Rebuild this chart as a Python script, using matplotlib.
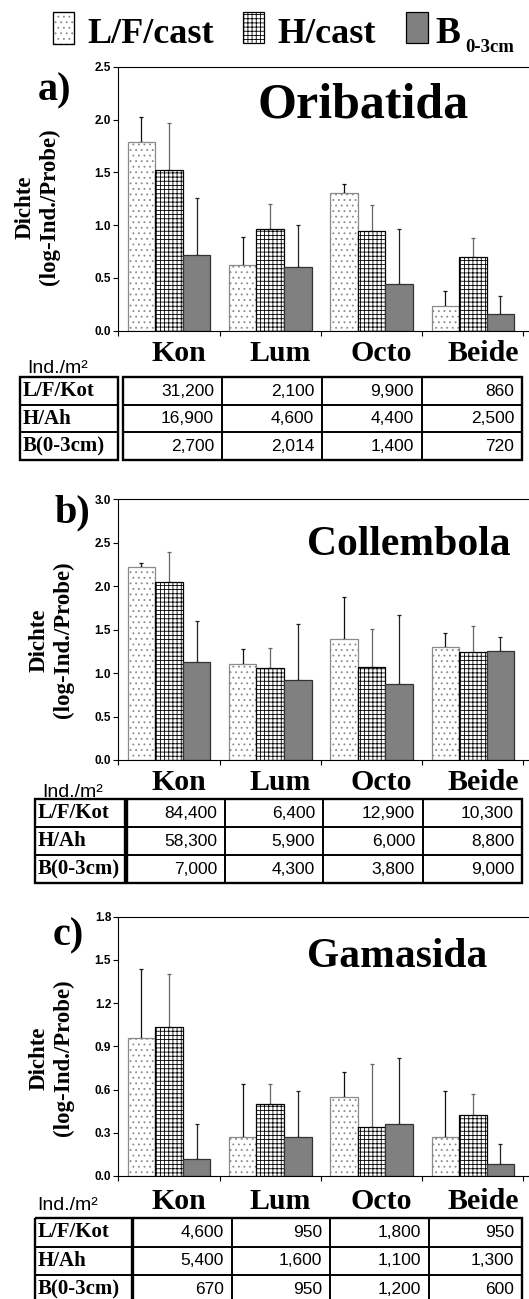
import matplotlib.pyplot as plt
import numpy as np
from matplotlib.patches import Rectangle
from matplotlib.transforms import blended_transform_factory

plt.rcParams['hatch.linewidth'] = 0.6
plt.rcParams['font.family'] = ['Liberation Sans', 'DejaVu Sans']
SERIF = ['Liberation Serif', 'DejaVu Serif']

sites = ['Kon', 'Lum', 'Octo', 'Beide']
layers = ['L/F/Kot', 'H/Ah', 'B(0-3cm)']

# bar heights and tops of the error bars (log-Ind./Probe)
ori_lf = [1.79, 0.62, 1.30, 0.23]
ori_lf_top = [2.02, 0.89, 1.39, 0.38]
ori_h = [1.52, 0.96, 0.94, 0.70]
ori_h_top = [1.97, 1.20, 1.19, 0.88]
ori_b = [0.72, 0.60, 0.44, 0.155]
ori_b_top = [1.26, 1.00, 0.96, 0.33]

col_lf = [2.22, 1.10, 1.39, 1.30]
col_lf_top = [2.27, 1.28, 1.88, 1.46]
col_h = [2.05, 1.06, 1.07, 1.24]
col_h_top = [2.39, 1.29, 1.51, 1.54]
col_b = [1.13, 0.92, 0.87, 1.25]
col_b_top = [1.60, 1.56, 1.67, 1.42]

gam_lf = [0.96, 0.27, 0.55, 0.27]
gam_lf_top = [1.44, 0.64, 0.72, 0.59]
gam_h = [1.035, 0.50, 0.34, 0.42]
gam_h_top = [1.40, 0.64, 0.78, 0.57]
gam_b = [0.12, 0.27, 0.36, 0.08]
gam_b_top = [0.36, 0.59, 0.82, 0.22]

# Ind./m2 tables
ori_tab = [[31200, 2100, 9900, 860], [16900, 4600, 4400, 2500], [2700, 2014, 1400, 720]]
col_tab = [[84400, 6400, 12900, 10300], [58300, 5900, 6000, 8800], [7000, 4300, 3800, 9000]]
gam_tab = [[4600, 950, 1800, 950], [5400, 1600, 1100, 1300], [670, 950, 1200, 600]]

W, H = 529, 1299
fig = plt.figure(figsize=(W / 100, H / 100), dpi=100)
ov = fig.add_axes([0, 0, 1, 1])
ov.set_xlim(0, W)
ov.set_ylim(H, 0)
ov.axis('off')

AX_LEFT = 118.3

panels = [
    dict(letter='a)', title='Oribatida', tsize=36, lf=ori_lf, lft=ori_lf_top, h=ori_h, ht=ori_h_top,
         b=ori_b, bt=ori_b_top, tab=ori_tab, top=66.7, bottom=330.7, ymax=2.5, ystep=0.5,
         let_xy=(38, 100), tit_xy=(363, 117), ylab_xy=(37, 207), cat_y=361, ind_xy=(27, 373),
         lab_box=(20, 118), cols=[123, 222, 322, 422, 522], rows=[377, 405, 432, 460]),
    dict(letter='b)', title='Collembola', tsize=30, lf=col_lf, lft=col_lf_top, h=col_h, ht=col_h_top,
         b=col_b, bt=col_b_top, tab=col_tab, top=499.3, bottom=760, ymax=3.0, ystep=0.5,
         let_xy=(55, 522), tit_xy=(409, 555), ylab_xy=(51, 640), cat_y=790, ind_xy=(42, 797),
         lab_box=(35, 125), cols=[127, 225, 323, 423, 522], rows=[799, 827, 855, 883]),
    dict(letter='c)', title='Gamasida', tsize=30, lf=gam_lf, lft=gam_lf_top, h=gam_h, ht=gam_h_top,
         b=gam_b, bt=gam_b_top, tab=gam_tab, top=916.7, bottom=1176, ymax=1.8, ystep=0.3,
         let_xy=(53, 945), tit_xy=(397, 967), ylab_xy=(51, 1058), cat_y=1209, ind_xy=(37, 1210),
         lab_box=(35, 132), cols=[133, 232, 330, 429, 522], rows=[1218, 1246.5, 1275, 1303.5]),
]

bw = 0.272
xpos = np.arange(len(sites)) + 0.5
unit = 101.3

for p in panels:
    ax = fig.add_axes([AX_LEFT / W, 1 - p['bottom'] / H, (W - AX_LEFT) / W, (p['bottom'] - p['top']) / H])
    ax.set_facecolor('none')
    series = [
        (p['lf'], p['lft'], -bw, dict(color='white', edgecolor='#8a8a8a', hatch='...'), '#111111'),
        (p['h'], p['ht'], 0, dict(color='white', edgecolor='black', hatch='++++'), '#666666'),
        (p['b'], p['bt'], bw, dict(color='#808080', edgecolor='#333333'), '#222222'),
    ]
    for vals, tops, off, style, ecol in series:
        vals = np.array(vals)
        tops = np.array(tops)
        ax.bar(xpos + off, vals, width=bw, linewidth=0.9, zorder=2, **style)
        ax.errorbar(xpos + off, vals, yerr=[np.zeros_like(vals), tops - vals], fmt='none',
                    ecolor=ecol, elinewidth=0.9, capsize=1.5, capthick=0.9, zorder=1)
    ax.set_xlim(0, (W - AX_LEFT) / unit)
    ax.set_ylim(0, p['ymax'])
    ticks = np.arange(0, p['ymax'] + 1e-6, p['ystep'])
    ax.set_yticks(ticks)
    ax.set_yticklabels([f'{t:.1f}' for t in ticks], fontweight='bold', fontsize=8.5)
    ax.set_xticks(np.arange(0, 5))
    ax.set_xticklabels([])
    ax.tick_params(axis='both', direction='out', length=3.6, width=0.8, pad=1.5)
    ax.spines['right'].set_visible(False)
    for s in ['top', 'left', 'bottom']:
        ax.spines[s].set_linewidth(0.8)

    ov.text(*p['let_xy'], p['letter'], family=SERIF, fontweight='bold', fontsize=29, va='baseline', ha='left')
    ov.text(*p['tit_xy'], p['title'], family=SERIF, fontweight='bold', fontsize=p['tsize'], va='baseline', ha='center')
    ov.text(*p['ylab_xy'], 'Dichte\n(log-Ind./Probe)', family=SERIF, fontweight='bold', fontsize=16.5,
            rotation=90, ha='center', va='center', linespacing=1.2, multialignment='center')

    tr = blended_transform_factory(ax.transData, ov.transData)
    for i, s in enumerate(sites):
        ov.text(xpos[i] + 0.1, p['cat_y'], s, transform=tr, family=SERIF, fontweight='bold',
                fontsize=21.5, ha='center', va='baseline')
    ov.text(*p['ind_xy'], 'Ind./m²', fontsize=14, ha='left', va='baseline')

    # table
    rows = p['rows']
    cols = p['cols']
    lx0, lx1 = p['lab_box']
    ov.add_patch(Rectangle((lx0, rows[0]), lx1 - lx0, rows[-1] - rows[0], fill=False, lw=1.7, ec='black'))
    ov.add_patch(Rectangle((cols[0], rows[0]), cols[-1] - cols[0], rows[-1] - rows[0], fill=False, lw=1.7, ec='black'))
    for r in rows[1:-1]:
        ov.plot([lx0, lx1], [r, r], color='black', lw=1.4)
        ov.plot([cols[0], cols[-1]], [r, r], color='black', lw=1.4)
    for c in cols[1:-1]:
        ov.plot([c, c], [rows[0], rows[-1]], color='black', lw=1.4)
    for j, lab in enumerate(layers):
        yc = (rows[j] + rows[j + 1]) / 2
        ov.text(lx0 + 3, yc, lab, family=SERIF, fontweight='bold', fontsize=15, ha='left', va='center')
        for i in range(len(sites)):
            ov.text(cols[i + 1] - 8, yc, f"{p['tab'][j][i]:,}", fontsize=12.5, ha='right', va='center')

# legend
ov.add_patch(Rectangle((53, 12), 21, 32, facecolor='white', edgecolor='#8a8a8a', hatch='...', lw=0.9))
ov.add_patch(Rectangle((53, 12), 21, 32, fill=False, edgecolor='black', lw=0.9))
ov.text(87, 43, 'L/F/cast', family=SERIF, fontweight='bold', fontsize=26, va='baseline')
ov.add_patch(Rectangle((243, 12), 21, 31, facecolor='white', edgecolor='black', hatch='++++', lw=0.9))
ov.text(277, 43, 'H/cast', family=SERIF, fontweight='bold', fontsize=26, va='baseline')
ov.add_patch(Rectangle((406, 12), 22, 31, facecolor='#808080', edgecolor='black', lw=0.9))
ov.text(435, 43, 'B', family=SERIF, fontweight='bold', fontsize=27, va='baseline')
ov.text(465, 52, '0-3cm', family=SERIF, fontweight='bold', fontsize=13.5, va='baseline')

fig.savefig('out.png', dpi=100)
